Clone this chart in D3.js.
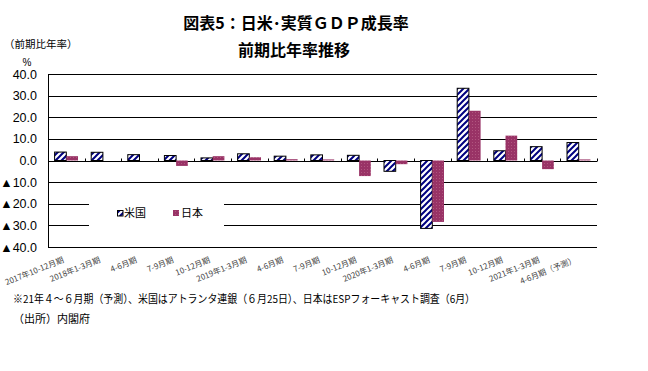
<!DOCTYPE html>
<html><head><meta charset="utf-8">
<script src="https://cdn.jsdelivr.net/npm/d3@7"></script>
<style>body{margin:0;background:#fff}svg{display:block}</style>
</head><body>
<svg id="c" width="648" height="371"></svg>
<script>
const categories = ["2017年10-12月期","2018年1-3月期","4-6月期","7-9月期","10-12月期","2019年1-3月期","4-6月期","7-9月期","10-12月期","2020年1-3月期","4-6月期","7-9月期","10-12月期","2021年1-3月期","4-6月期（予測）"];
const usValues = [3.9, 3.8, 2.7, 2.3, 1.2, 3.1, 2.0, 2.6, 2.4, -5.0, -31.4, 33.4, 4.5, 6.4, 8.3];
const jpValues = [2.0, 0.0, 0.0, -2.5, 2.0, 1.5, 0.6, 0.5, -7.2, -1.7, -28.4, 23.0, 11.5, -4.0, 0.5];
const yTicks = [40, 30, 20, 10, 0, -10, -20, -30, -40];
const seriesNames = ["米国", "日本"];

const svg = d3.select("#c");
const defs = svg.append("defs");
const hatch = defs.append("pattern").attr("id","hatch").attr("patternUnits","userSpaceOnUse")
  .attr("width",6).attr("height",6);
hatch.append("rect").attr("width",6).attr("height",6).attr("fill","#fff");
hatch.append("path").attr("d","M-1,7 L7,-1 M-1,1 L1,-1 M5,7 L7,5").attr("stroke","#000080").attr("stroke-width",2);
const dots = defs.append("pattern").attr("id","dots").attr("patternUnits","userSpaceOnUse")
  .attr("width",3).attr("height",3);
dots.append("rect").attr("width",3).attr("height",3).attr("fill","#993366");
dots.append("rect").attr("x",1).attr("y",1).attr("width",1).attr("height",1).attr("fill","#b0557f");

const x = d3.scaleBand().domain(d3.range(categories.length)).range([48, 597]).paddingInner(0).paddingOuter(0);
const y = d3.scaleLinear().domain([-40, 40]).range([247, 74]);
const bw = 11.7;

// gridlines
svg.append("g").selectAll("line").data(yTicks).join("line")
  .attr("x1",48).attr("x2",597).attr("y1",d=>Math.round(y(d))+0.5).attr("y2",d=>Math.round(y(d))+0.5)
  .attr("stroke","#000").attr("stroke-width",1);

// legend box (white)
svg.append("rect").attr("x",89).attr("y",190).attr("width",135).attr("height",46).attr("fill","#fff");

// y axis line
svg.append("line").attr("x1",48.5).attr("x2",48.5).attr("y1",Math.round(y(40))).attr("y2",Math.round(y(-40))+1)
  .attr("stroke","#000").attr("stroke-width",1);

// category ticks on zero line
const y0 = Math.round(y(0))+0.5;
svg.append("g").selectAll("line").data(d3.range(1, categories.length+1)).join("line")
  .attr("x1",d=>Math.round(x.range()[0] + d*x.step())+0.5).attr("x2",d=>Math.round(x.range()[0] + d*x.step())+0.5)
  .attr("y1",y0-3).attr("y2",y0).attr("stroke","#000");

// bars
const cx = i => x(i) + x.bandwidth()/2;
svg.append("g").selectAll("rect").data(usValues).join("rect")
  .attr("x",(d,i)=>cx(i)-bw).attr("width",bw)
  .attr("y",d=>y(Math.max(0,d))).attr("height",d=>Math.abs(y(d)-y(0)))
  .attr("fill","url(#hatch)").attr("stroke","#000").attr("stroke-width",1);
svg.append("g").selectAll("rect").data(jpValues).join("rect")
  .attr("x",(d,i)=>cx(i)).attr("width",bw)
  .attr("y",d=>y(Math.max(0,d))).attr("height",d=>Math.abs(y(d)-y(0)))
  .attr("fill","url(#dots)");

// y tick labels
svg.append("g").selectAll("text").data(yTicks).join("text")
  .attr("x",37).attr("y",d=>y(d)+4.5).attr("text-anchor","end")
  .attr("font-family","Liberation Sans, Arial, sans-serif").attr("font-size",12.5).attr("fill","#000")
  .text(d=> (d<0 ? "▲" : "") + Math.abs(d).toFixed(1));

// x labels
svg.append("g").selectAll("text").data(categories).join("text")
  .attr("transform",(d,i)=>`translate(${cx(i)-2},${262}) rotate(-22)`)
  .attr("text-anchor","end")
  .attr("font-family","Noto Sans CJK JP, sans-serif").attr("font-size",8).attr("fill","#444")
  .text(d=>d);

// legend
svg.append("rect").attr("x",117.5).attr("y",210.5).attr("width",5.5).attr("height",5.5).attr("fill","url(#hatch)").attr("stroke","#000");
svg.append("text").attr("x",124).attr("y",217).attr("font-family","Noto Sans CJK JP, sans-serif").attr("font-size",11).text(seriesNames[0]);
svg.append("rect").attr("x",173).attr("y",210).attr("width",6).attr("height",6).attr("fill","url(#dots)");
svg.append("text").attr("x",181).attr("y",217).attr("font-family","Noto Sans CJK JP, sans-serif").attr("font-size",11).text(seriesNames[1]);

// titles
const tf = "Noto Sans CJK JP, sans-serif";
svg.append("text").attr("x",296).attr("y",29).attr("text-anchor","middle").attr("font-family",tf).attr("font-weight","bold").attr("font-size",16).text("図表5：日米･実質ＧＤＰ成長率");
svg.append("text").attr("x",294).attr("y",56).attr("text-anchor","middle").attr("font-family",tf).attr("font-weight","bold").attr("font-size",16).text("前期比年率推移");
svg.append("text").attr("x",4).attr("y",48).attr("font-family",tf).attr("font-size",10.5).text("（前期比年率）");
svg.append("text").attr("x",27).attr("y",66).attr("text-anchor","middle").attr("font-family","Liberation Sans, Arial, sans-serif").attr("font-size",10).text("%");

// notes
svg.append("text").attr("x",13).attr("y",303).attr("font-family",tf).attr("font-size",11)
  .attr("textLength",462).attr("lengthAdjust","spacingAndGlyphs")
  .text("※21年４～６月期（予測）、米国はアトランタ連銀（６月25日）、日本はESPフォーキャスト調査（6月）");
svg.append("text").attr("x",13).attr("y",323).attr("font-family",tf).attr("font-size",11).text("（出所）内閣府");
</script>
</body></html>
